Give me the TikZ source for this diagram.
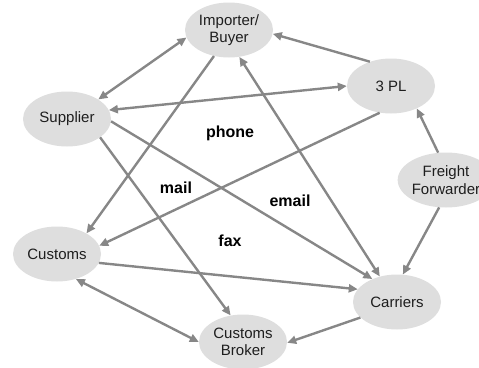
\documentclass[tikz,border=0pt]{standalone}
\usepackage{fontspec}
\setmainfont{Liberation Sans}
\usetikzlibrary{shapes.geometric,arrows.meta}
\definecolor{nodefill}{RGB}{222,222,222}
\definecolor{edgegray}{RGB}{135,135,135}
\definecolor{txt}{RGB}{30,30,30}
\begin{document}
\begin{tikzpicture}[x=1pt,y=-1pt,
  party/.style={ellipse,fill=nodefill,draw=none,minimum width=88pt,minimum height=55pt,inner sep=0pt,
    align=center,text=txt,font=\fontsize{15}{17.5}\selectfont},
  link/.style={draw=edgegray,line width=2.4pt,-{Triangle[length=9pt,width=8pt]}},
  dlink/.style={draw=edgegray,line width=2.4pt,{Triangle[length=9pt,width=8pt]}-{Triangle[length=9pt,width=8pt]}},
  medium/.style={font=\bfseries\fontsize{16}{18}\selectfont,text=black}]
\useasboundingbox (0,0) rectangle (479,367);
\node[party] (imp) at (229,30) {Importer/\\Buyer};
\node[party] (tpl) at (391,86) {3 PL};
\node[party] (sup) at (67,119) {Supplier};
\node[party] (ff) at (446,180) {Freight\\Forwarder};
\node[party] (cus) at (57,254) {Customs};
\node[party] (car) at (397,302) {Carriers};
\node[party] (brk) at (243,342) {Customs\\Broker};
\node[medium] (phone) at (230,133) {phone};
\node[medium] (mail) at (176,188) {mail};
\node[medium] (email) at (290,201) {email};
\node[medium] (fax) at (230,241) {fax};
\draw[dlink] (sup.32) -- (imp.190);
\draw[link] (imp.240) -- (cus.35);
\draw[dlink] (imp.291) -- (car.124);
\draw[link] (tpl.131) -- (imp.355);
\draw[dlink] (sup.12) -- (tpl.180);
\draw[link] (tpl.247) -- (cus.11);
\draw[link] (sup.-3) -- (car.137);
\draw[link] (sup.331) -- (brk.115);
\draw[link] (ff.106) -- (tpl.319);
\draw[link] (ff.256) -- (car.78);
\draw[link] (cus.348) -- (car.162);
\draw[dlink] (cus.307) -- (brk.180);
\draw[link] (car.203) -- (brk.359);
\end{tikzpicture}
\end{document}
